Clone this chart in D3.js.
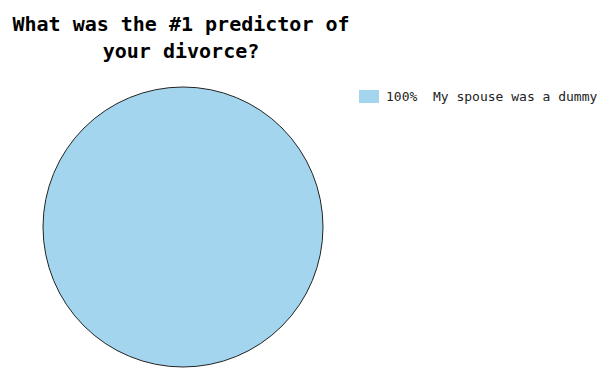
<!DOCTYPE html>
<html><head><meta charset="utf-8">
<script src="https://cdn.jsdelivr.net/npm/d3@7"></script>
<style>body{margin:0;background:#fff}</style>
</head><body>
<svg id="c" width="605" height="372"></svg>
<script>
const titleLines = ["What was the #1 predictor of", "your divorce?"];
const categories = ["My spouse was a dummy"];
const values = [100];
const colors = ["#a3d6ee"];

const svg = d3.select("#c");
const font = "'DejaVu Sans Mono', 'Liberation Mono', monospace";

svg.append("text").attr("x", 181).attr("y", 31)
  .attr("text-anchor", "middle").attr("font-family", font)
  .attr("font-size", 20).attr("font-weight", "bold")
  .selectAll("tspan").data(titleLines).join("tspan")
  .attr("x", 181).attr("dy", (d, i) => i ? 27 : 0).text(d => d);

const cx = 183, cy = 227, r = 140;
const pie = d3.pie().sort(null);
const arc = d3.arc().innerRadius(0).outerRadius(r);
const g = svg.append("g").attr("transform", `translate(${cx},${cy})`);
g.selectAll("path").data(pie(values)).join("path")
  .attr("d", arc).attr("fill", (d, i) => colors[i])
  .attr("stroke", "#222").attr("stroke-width", 1);

const total = d3.sum(values);
const lg = svg.append("g").attr("transform", "translate(359,90)");
const items = lg.selectAll("g").data(categories).join("g")
  .attr("transform", (d, i) => `translate(0,${i * 20})`);
items.append("rect").attr("width", 20).attr("height", 13).attr("fill", (d, i) => colors[i]);
items.append("text").attr("x", 27).attr("y", 11)
  .attr("font-family", font).attr("font-size", 13).attr("fill", "#222")
  .attr("xml:space", "preserve").style("white-space", "pre")
  .text((d, i) => `${Math.round(values[i] / total * 100)}%  ${d}`);
</script>
</body></html>
